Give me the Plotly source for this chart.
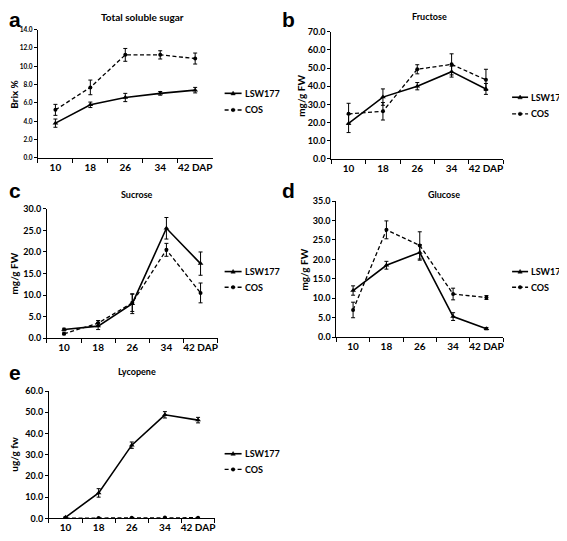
import plotly.graph_objects as go

W, H = 567, 541
OFF = 8  # page body margin offset compensation
FW, FH = W - OFF, H - OFF

categories = ["10", "18", "26", "34", "42 DAP"]
series_names = ["LSW177", "COS"]

# a: Total soluble sugar (Brix %)
tss_lsw = [3.8, 5.8, 6.6, 7.05, 7.4]
tss_lsw_err = [0.45, 0.3, 0.45, 0.2, 0.3]
tss_cos = [5.25, 7.7, 11.25, 11.25, 10.85]
tss_cos_err = [0.6, 0.8, 0.7, 0.45, 0.6]

# b: Fructose (mg/g FW)
fru_lsw = [19.5, 34.0, 40.0, 48.0, 38.5]
fru_lsw_err = [5.0, 4.5, 2.0, 3.0, 3.0]
fru_cos = [24.8, 26.2, 49.3, 52.0, 43.5]
fru_cos_err = [5.8, 4.8, 2.5, 5.8, 5.8]

# c: Sucrose (mg/g FW)
suc_lsw = [2.0, 2.8, 8.0, 25.5, 17.3]
suc_lsw_err = [0.3, 0.8, 2.3, 2.5, 2.7]
suc_cos = [1.0, 3.5, 8.2, 20.5, 10.5]
suc_cos_err = [0.2, 0.6, 2.0, 1.5, 2.3]

# d: Glucose (mg/g FW)
glu_lsw = [12.0, 18.5, 21.8, 5.3, 2.2]
glu_lsw_err = [1.2, 1.0, 2.0, 1.0, 0.3]
glu_cos = [7.0, 27.6, 23.6, 11.1, 10.2]
glu_cos_err = [2.0, 2.3, 3.5, 1.5, 0.5]

# e: Lycopene (ug/g fw)
lyc_lsw = [0.5, 12.0, 34.5, 48.8, 46.3]
lyc_lsw_err = [0.3, 2.0, 1.5, 1.5, 1.3]
lyc_cos = [0.1, 0.2, 0.3, 0.4, 0.3]
lyc_cos_err = [0.05, 0.05, 0.05, 0.05, 0.05]

panels = [
    dict(letter="a", title="Total soluble sugar", ytitle="Brix %", ymax=14, dtick=2,
         lsw=tss_lsw, lswe=tss_lsw_err, cos=tss_cos, cose=tss_cos_err,
         px=(38, 213), py=(24, 155), ytx=14, letter_xy=(8, 14),
         leg=(225, 242, 89, 106), tfs=6.5, title_xy=(143, 11), title_fs=10),
    dict(letter="b", title="Fructose", ytitle="mg/g FW", ymax=70, dtick=10,
         lsw=fru_lsw, lswe=fru_lsw_err, cos=fru_cos, cose=fru_cos_err,
         px=(332, 504), py=(26, 156), ytx=302, letter_xy=(281, 14),
         leg=(513, 529, 93, 110), tfs=9, title_xy=(430, 11), title_fs=9),
    dict(letter="c", title="Sucrose", ytitle="mg/g FW", ymax=30, dtick=5,
         lsw=suc_lsw, lswe=suc_lsw_err, cos=suc_cos, cose=suc_cos_err,
         px=(47, 218), py=(207, 339), ytx=14, letter_xy=(8, 188),
         leg=(225, 242, 271, 287), tfs=9, title_xy=(137, 192), title_fs=9),
    dict(letter="d", title="Glucose", ytitle="mg/g FW", ymax=35, dtick=5,
         lsw=glu_lsw, lswe=glu_lsw_err, cos=glu_cos, cose=glu_cos_err,
         px=(337, 504), py=(199, 338), ytx=305, letter_xy=(281, 188),
         leg=(513, 529, 271, 287), tfs=9, title_xy=(445, 192), title_fs=9),
    dict(letter="e", title="Lycopene", ytitle="ug/g fw", ymax=60, dtick=10,
         lsw=lyc_lsw, lswe=lyc_lsw_err, cos=lyc_cos, cose=lyc_cos_err,
         px=(49, 215), py=(393, 523), ytx=14, letter_xy=(8, 374),
         leg=(225, 242, 457, 473), tfs=9, title_xy=(137, 373), title_fs=9),
]

FONT = "Lato"
DASH = "4px,2.5px"
fig = go.Figure()
annotations = []
shapes = []
layout = dict(
    width=FW, height=FH, margin=dict(l=0, r=0, t=0, b=0),
    paper_bgcolor="white", plot_bgcolor="white",
    font=dict(family=FONT, color="black"),
    showlegend=False,
)


def px2x(v):
    return (v - OFF) / FW


def px2y(v):
    return 1 - (v - OFF) / FH


for i, p in enumerate(panels):
    n = "" if i == 0 else str(i + 1)
    xa, ya = "x" + n, "y" + n
    x0, x1 = p["px"]
    yt, yb = p["py"]
    layout["xaxis" + n] = dict(
        domain=[px2x(x0), px2x(x1)], anchor=ya, type="category",
        categoryorder="array", categoryarray=categories,
        range=[-0.5, 4.5], showgrid=False, zeroline=False,
        showline=True, linecolor="black", linewidth=1,
        ticks="outside", tickson="boundaries", ticklen=4, tickcolor="black",
        tickangle=0,
        tickfont=dict(family=FONT, size=10, weight=700, color="black"),
        fixedrange=True,
    )
    layout["yaxis" + n] = dict(
        domain=[px2y(yb), px2y(yt)], anchor=xa, range=[0, p["ymax"]],
        dtick=p["dtick"], tickformat=".1f", showgrid=False, zeroline=False,
        showline=True, linecolor="black", linewidth=1,
        ticks="outside", ticklen=3, tickcolor="black",
        tickfont=dict(family=FONT, size=p["tfs"], weight=700, color="black"),
        fixedrange=True,
    )
    fig.add_trace(go.Scatter(
        x=categories, y=p["lsw"], name=series_names[0], xaxis=xa, yaxis=ya,
        mode="lines+markers",
        line=dict(color="black", width=1.6),
        marker=dict(symbol="triangle-up", size=5, color="black"),
        error_y=dict(type="data", array=p["lswe"], visible=True, color="black",
                     thickness=1, width=2),
    ))
    fig.add_trace(go.Scatter(
        x=categories, y=p["cos"], name=series_names[1], xaxis=xa, yaxis=ya,
        mode="lines+markers",
        line=dict(color="black", width=1.3, dash=DASH),
        marker=dict(symbol="circle", size=4, color="black"),
        error_y=dict(type="data", array=p["cose"], visible=True, color="black",
                     thickness=1, width=2),
    ))
    # panel title
    tx, ty = p["title_xy"]
    annotations.append(dict(
        text=p["title"], x=px2x(tx), y=px2y(ty),
        xref="paper", yref="paper", xanchor="center", yanchor="middle",
        showarrow=False, font=dict(family=FONT, size=p["title_fs"], weight=700, color="black"),
    ))
    # y title
    annotations.append(dict(
        text=p["ytitle"], x=px2x(p["ytx"]), y=px2y((yt + yb) / 2),
        xref="paper", yref="paper", xanchor="center", yanchor="middle",
        textangle=-90, showarrow=False,
        font=dict(family=FONT, size=10, weight=700, color="black"),
    ))
    # panel letter
    lxp, lyp = p["letter_xy"]
    annotations.append(dict(
        text=p["letter"], x=px2x(lxp), y=px2y(lyp),
        xref="paper", yref="paper", xanchor="left", yanchor="middle",
        showarrow=False, borderpad=0,
        font=dict(family="Liberation Sans", size=21, weight=700, color="black"),
    ))
    # legend (drawn as samples + labels)
    lx0, lx1, ly1, ly2 = p["leg"]
    mx = (lx0 + lx1) / 2
    for k, (ly, dash, w) in enumerate([(ly1, "solid", 1.6), (ly2, DASH, 1.3)]):
        shapes.append(dict(type="line", xref="paper", yref="paper",
                           x0=px2x(lx0), x1=px2x(lx1), y0=px2y(ly), y1=px2y(ly),
                           line=dict(color="black", width=w, dash=dash)))
        annotations.append(dict(
            text=series_names[k], x=px2x(lx1 + 1), y=px2y(ly),
            xref="paper", yref="paper", xanchor="left", yanchor="middle",
            showarrow=False,
            font=dict(family=FONT, size=9, weight=700, color="black"),
        ))
    # legend markers
    shapes.append(dict(type="path", xref="paper", yref="paper",
                       path="M {:.5f} {:.5f} L {:.5f} {:.5f} L {:.5f} {:.5f} Z".format(
                           px2x(mx - 2.2), px2y(ly1 + 1.6), px2x(mx + 2.2), px2y(ly1 + 1.6),
                           px2x(mx), px2y(ly1 - 2.2)),
                       fillcolor="black", line=dict(color="black", width=0.5)))
    shapes.append(dict(type="circle", xref="paper", yref="paper",
                       x0=px2x(mx - 1.8), x1=px2x(mx + 1.8), y0=px2y(ly2 + 1.8), y1=px2y(ly2 - 1.8),
                       fillcolor="black", line=dict(color="black", width=0.5)))

layout["annotations"] = annotations
layout["shapes"] = shapes
fig.update_layout(**layout)
fig.write_html("out.html")
